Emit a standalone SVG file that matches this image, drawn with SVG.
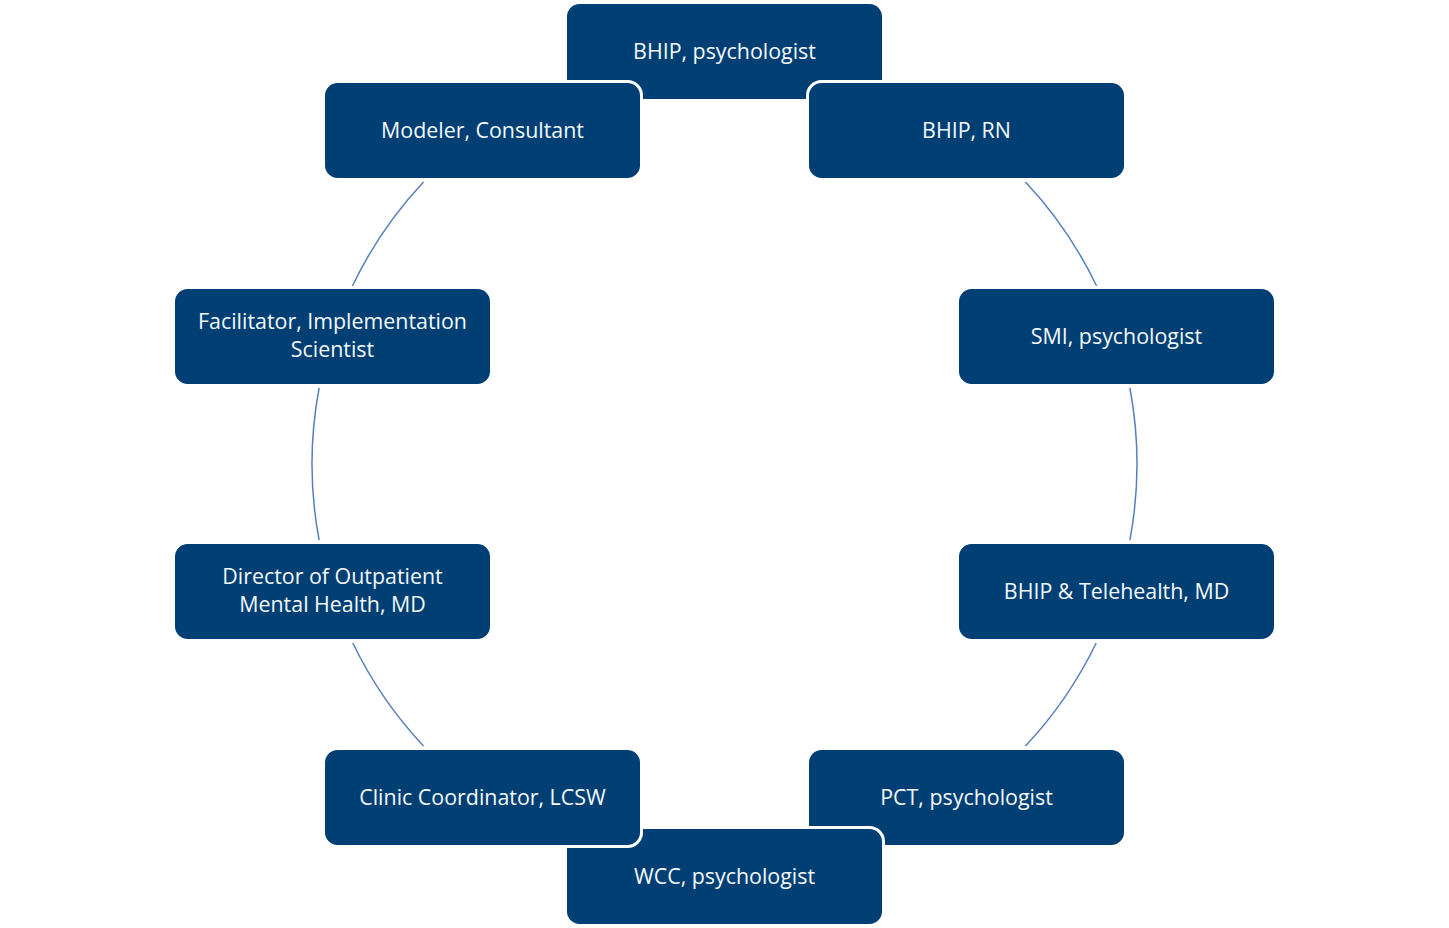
<svg xmlns="http://www.w3.org/2000/svg" width="1449" height="928" viewBox="0 0 1449 928">
<style>
.box{fill:#003F74;stroke:#FFFFFF;stroke-width:3}
.lbl{font-family:"Open Sans","Noto Sans","Liberation Sans",sans-serif;font-size:21.4px;fill:#F4F8FC;text-anchor:middle}
.arc{fill:none;stroke:#5580BA;stroke-width:1.5}
</style>
<rect width="1449" height="928" fill="#FFFFFF"/>
<g id="connectors">
<path class="arc" d="M 423.5 182 A 412.5 412.5 0 0 0 352.4 286"/>
<path class="arc" d="M 319.1 388 A 412.5 412.5 0 0 0 319.1 540"/>
<path class="arc" d="M 352.8 643 A 412.5 412.5 0 0 0 423.5 746"/>
<path class="arc" d="M 1025.5 182 A 412.5 412.5 0 0 1 1096.6 286"/>
<path class="arc" d="M 1129.9 388 A 412.5 412.5 0 0 1 1129.9 540"/>
<path class="arc" d="M 1096.2 643 A 412.5 412.5 0 0 1 1025.5 746"/>
</g>
<g id="node1"><rect class="box" x="565.5" y="2.5" width="318" height="98" rx="14"/><text class="lbl" x="724.5" y="59">BHIP, psychologist</text></g>
<g id="node2"><rect class="box" x="807.5" y="81.5" width="318" height="98" rx="14"/><text class="lbl" x="966.5" y="138">BHIP, RN</text></g>
<g id="node3"><rect class="box" x="957.5" y="287.5" width="318" height="98" rx="14"/><text class="lbl" x="1116.5" y="344">SMI, psychologist</text></g>
<g id="node4"><rect class="box" x="957.5" y="542.5" width="318" height="98" rx="14"/><text class="lbl" x="1116.5" y="599">BHIP &amp; Telehealth, MD</text></g>
<g id="node5"><rect class="box" x="807.5" y="748.5" width="318" height="98" rx="14"/><text class="lbl" x="966.5" y="805">PCT, psychologist</text></g>
<g id="node6"><rect class="box" x="565.5" y="827.5" width="318" height="98" rx="14"/><text class="lbl" x="724.5" y="884">WCC, psychologist</text></g>
<g id="node7"><rect class="box" x="323.5" y="748.5" width="318" height="98" rx="14"/><text class="lbl" x="482.5" y="805">Clinic Coordinator, LCSW</text></g>
<g id="node8"><rect class="box" x="173.5" y="542.5" width="318" height="98" rx="14"/><text class="lbl" x="332.5" y="584">Director of Outpatient</text><text class="lbl" x="332.5" y="612">Mental Health, MD</text></g>
<g id="node9"><rect class="box" x="173.5" y="287.5" width="318" height="98" rx="14"/><text class="lbl" x="332.5" y="329">Facilitator, Implementation</text><text class="lbl" x="332.5" y="357">Scientist</text></g>
<g id="node10"><rect class="box" x="323.5" y="81.5" width="318" height="98" rx="14"/><text class="lbl" x="482.5" y="138">Modeler, Consultant</text></g>
</svg>
